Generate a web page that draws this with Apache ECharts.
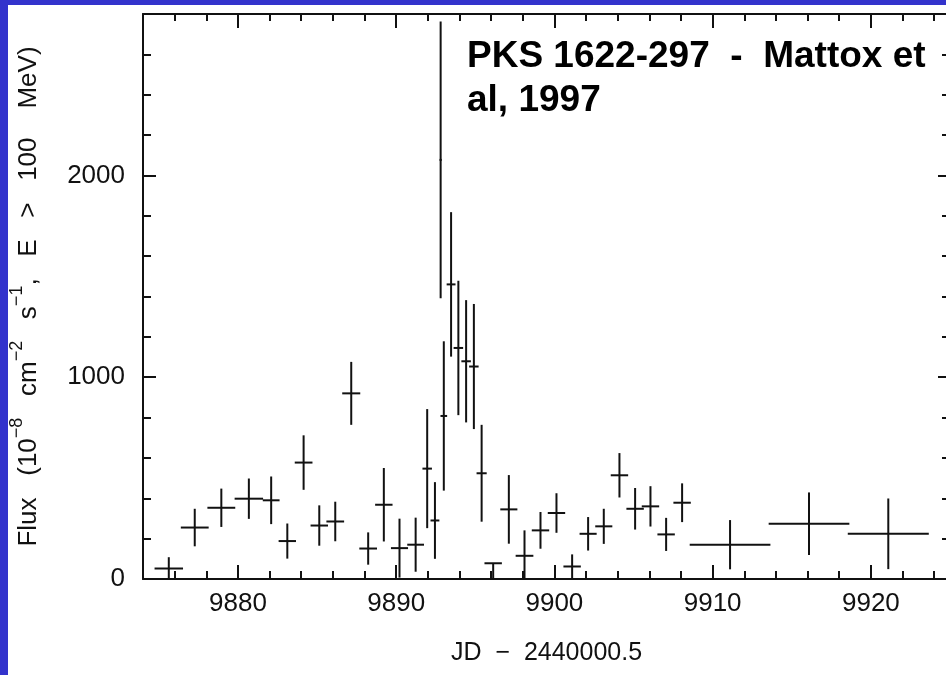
<!DOCTYPE html>
<html><head><meta charset="utf-8">
<script src="https://cdn.jsdelivr.net/npm/echarts@6/dist/echarts.min.js"></script>
<style>
html,body{margin:0;padding:0;background:#3333cc;width:946px;height:675px;overflow:hidden}
#panel{position:absolute;left:8px;top:5px;width:938px;height:670px;background:#fff}
#chart{position:absolute;left:0;top:0;width:946px;height:675px}
</style></head><body><div id="panel"></div><div id="chart"></div>
<script>
// Data (JD - 2440000.5, half bin width, flux, lower / upper errors)
const jd = [9875.63, 9877.27, 9878.95, 9880.69, 9882.10, 9883.12, 9884.15, 9885.14, 9886.15, 9887.16,
            9888.23, 9889.22, 9890.21, 9891.23, 9891.96, 9892.45, 9892.81, 9893.01, 9893.47, 9893.93,
            9894.42, 9894.91, 9895.40, 9896.13, 9897.12, 9898.11, 9899.12, 9900.13, 9901.12, 9902.13,
            9903.12, 9904.11, 9905.10, 9906.07, 9907.06, 9908.07, 9911.10, 9916.09, 9921.10];
const jdErr = [0.90, 0.88, 0.88, 0.90, 0.53, 0.55, 0.56, 0.55, 0.56, 0.57,
               0.56, 0.55, 0.54, 0.53, 0.30, 0.28, 0.07, 0.21, 0.28, 0.30,
               0.30, 0.30, 0.32, 0.55, 0.54, 0.56, 0.55, 0.55, 0.55, 0.54,
               0.54, 0.55, 0.55, 0.55, 0.55, 0.55, 2.55, 2.55, 2.56];
const flux = [52, 255, 353, 398, 390, 188, 577, 265, 285, 920,
              151, 368, 153, 170, 547, 290, 2077, 808, 1460, 1145,
              1079, 1053, 524, 78, 345, 115, 241, 327, 62, 224,
              261, 514, 348, 360, 221, 378, 170, 274, 224];
const fluxErrLo = [56, 93, 95, 100, 118, 87, 135, 100, 98, 156,
                   80, 182, 146, 134, 295, 190, 686, 370, 358, 333,
                   303, 310, 240, 100, 170, 126, 91, 98, 60, 83,
                   87, 110, 103, 100, 82, 96, 122, 155, 175];
const fluxErrHi = [56, 93, 95, 100, 118, 87, 135, 100, 98, 156,
                   80, 182, 146, 134, 295, 190, 686, 370, 358, 333,
                   303, 310, 240, 0, 170, 126, 91, 98, 60, 83,
                   87, 110, 103, 100, 82, 96, 122, 155, 175];

const xMajorTicks = [9880, 9890, 9900, 9910, 9920];
const xMinorTicks = [9874, 9876, 9878, 9880, 9882, 9884, 9886, 9888, 9890, 9892, 9894, 9896, 9898,
                     9900, 9902, 9904, 9906, 9908, 9910, 9912, 9914, 9916, 9918, 9920, 9922, 9924];
const yMajorTicks = [0, 1000, 2000];
const yMinorTicks = [0, 200, 400, 600, 800, 1000, 1200, 1400, 1600, 1800, 2000, 2200, 2400, 2600, 2800];

const INK = '#111';
const FONT = '"Liberation Sans", Arial, sans-serif';
const plain = v => String(v);

function xAx(position, ticks, len, line, labels, extra) {
  return Object.assign({
    type: 'value', min: 9874, max: 9925, position: position, gridIndex: 0,
    axisLine: {show: line, onZero: false, lineStyle: {color: INK, width: 2}},
    axisTick: {show: true, inside: true, length: len, customValues: ticks, lineStyle: {color: INK, width: 2}},
    axisLabel: labels ? {show: true, customValues: ticks, formatter: plain, fontSize: 26, color: INK, margin: 12, fontFamily: FONT} : {show: false},
    splitLine: {show: false}
  }, extra || {});
}
function yAx(position, ticks, len, line, labels, extra) {
  return Object.assign({
    type: 'value', min: 0, max: 2800, position: position, gridIndex: 0,
    axisLine: {show: line, onZero: false, lineStyle: {color: INK, width: 2}},
    axisTick: {show: true, inside: true, length: len, customValues: ticks, lineStyle: {color: INK, width: 2}},
    axisLabel: labels ? {show: true, customValues: ticks, formatter: plain, fontSize: 26, color: INK, margin: 18, fontFamily: FONT} : {show: false},
    splitLine: {show: false}
  }, extra || {});
}

const data = jd.map((d, i) => [d, flux[i], jdErr[i], fluxErrLo[i], fluxErrHi[i]]);

const chart = echarts.init(document.getElementById('chart'), null, {renderer: 'canvas'});
chart.setOption({
  backgroundColor: 'transparent',
  animation: false,
  grid: {left: 143, right: -4, top: 14, bottom: 96, outerBoundsMode: 'none', containLabel: false},
  xAxis: [
    xAx('bottom', xMajorTicks, 14, true, true, {
      name: 'JD  \u2212  2440000.5', nameLocation: 'middle', nameGap: 62,
      nameTextStyle: {fontSize: 25, color: INK, fontFamily: FONT}
    }),
    xAx('bottom', xMinorTicks, 8, false, false),
    xAx('top', xMajorTicks, 14, true, false),
    xAx('top', xMinorTicks, 7, false, false)
  ],
  yAxis: [
    yAx('left', yMajorTicks, 13, true, true, {
      name: '{n|Flux   (10}{s|\u22128}{n|   cm}{s|\u22122}{n|   s}{s|\u22121}{n|,   E   >   100    MeV)}',
      nameLocation: 'middle', nameRotate: 90, nameGap: 101,
      nameTextStyle: {
        color: INK, fontFamily: FONT,
        rich: {
          n: {fontSize: 26, color: INK, fontFamily: FONT, lineHeight: 34, verticalAlign: 'bottom'},
          s: {fontSize: 18, color: INK, fontFamily: FONT, lineHeight: 34, verticalAlign: 'top'}
        }
      }
    }),
    yAx('left', yMinorTicks, 8, false, false),
    yAx('right', yMajorTicks, 12, true, false),
    yAx('right', yMinorTicks, 8, false, false)
  ],
  graphic: [{
    type: 'text', left: 467, top: 35, z: 100,
    style: {
      text: 'PKS 1622-297  -  Mattox et\nal, 1997',
      font: 'bold 37px ' + FONT, fill: '#000', lineHeight: 44
    }
  }],
  series: [{
    type: 'custom', xAxisIndex: 0, yAxisIndex: 0, clip: true,
    encode: {x: 0, y: 1},
    data: data,
    renderItem: function (params, api) {
      const x = api.value(0), y = api.value(1), xe = api.value(2), lo = api.value(3), hi = api.value(4);
      const a = api.coord([x - xe, y]), b = api.coord([x + xe, y]);
      const c = api.coord([x, y - lo]), d = api.coord([x, y + hi]);
      const st = {stroke: INK, lineWidth: 2, fill: null};
      return {
        type: 'group',
        children: [
          {type: 'line', shape: {x1: a[0], y1: a[1], x2: b[0], y2: b[1]}, style: st},
          {type: 'line', shape: {x1: c[0], y1: c[1], x2: d[0], y2: d[1]}, style: st}
        ]
      };
    }
  }]
});
</script></body></html>
